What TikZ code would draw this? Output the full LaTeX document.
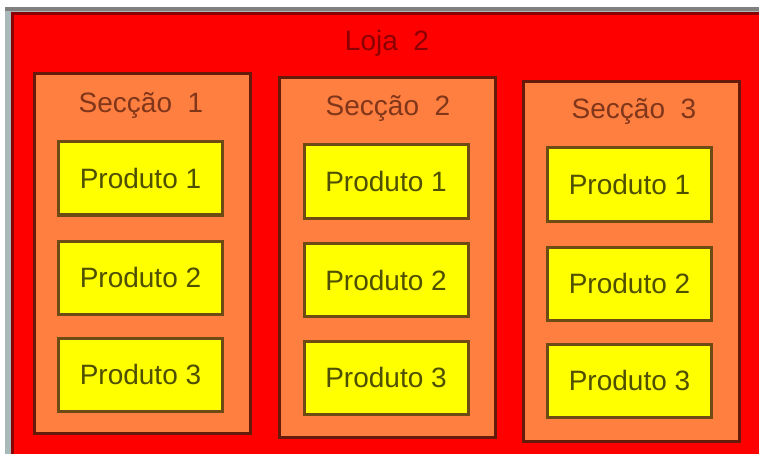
\documentclass[tikz,border=0pt]{standalone}
\usepackage{fontspec}
\setmainfont{Liberation Sans}
\definecolor{lojafill}{HTML}{FF0000}
\definecolor{lojaborda}{HTML}{8B0000}
\definecolor{seccaofill}{HTML}{FF7F40}
\definecolor{seccaoborda}{HTML}{661A0A}
\definecolor{seccaotexto}{HTML}{80361A}
\definecolor{produtofill}{HTML}{FFFF00}
\definecolor{produtoborda}{HTML}{6E4B14}
\definecolor{produtotexto}{HTML}{4F4F00}
\definecolor{moldura}{HTML}{A9B9B9}
\definecolor{molduratopo}{HTML}{808080}

\begin{document}
\begin{tikzpicture}[x=1pt,y=-1pt,
   every node/.style={font=\fontsize{28}{32}\selectfont,inner sep=0pt},
   loja/.style={draw=lojaborda,fill=lojafill,line width=3pt,anchor=north west,
      minimum width=800pt,minimum height=500pt},
   seccao/.style={draw=seccaoborda,fill=seccaofill,line width=3pt,
      minimum width=216pt,minimum height=360pt},
   produto/.style={draw=produtoborda,fill=produtofill,line width=3pt,text=produtotexto,
      minimum width=164pt,minimum height=73pt},
   titulo/.style={text=seccaotexto}]
\useasboundingbox (0,0) rectangle (759,454);
\fill[white] (0,0) rectangle (759,454);
\fill[moldura] (5,7) rectangle (759,454);
\fill[molduratopo] (5,7) rectangle (759,11);
\node[loja] (loja) at (10.5,12.5) {};
\node[text=lojaborda] (lojatitulo) at (387,43) {Loja\ \ 2};
% seccao 1
\node[seccao] (s1) at (142.5,253.5) {};
\node[titulo] (s1titulo) at (141,105) {Secção\ \ 1};
\node[produto] (s1p1) at (140.5,178.5) {Produto 1};
\node[produto] (s1p2) at (140.5,277.5) {Produto 2};
\node[produto] (s1p3) at (140.5,374.5) {Produto 3};
% seccao 2
\node[seccao] (s2) at (387,257.5) {};
\node[titulo] (s2titulo) at (388,108) {Secção\ \ 2};
\node[produto] (s2p1) at (386,181.5) {Produto 1};
\node[produto] (s2p2) at (386,280) {Produto 2};
\node[produto] (s2p3) at (386,377.5) {Produto 3};
% seccao 3
\node[seccao] (s3) at (631.5,261.5) {};
\node[titulo] (s3titulo) at (634,111) {Secção\ \ 3};
\node[produto] (s3p1) at (629.5,184.5) {Produto 1};
\node[produto] (s3p2) at (629.5,283.5) {Produto 2};
\node[produto] (s3p3) at (629.5,380.5) {Produto 3};
\end{tikzpicture}
\end{document}
